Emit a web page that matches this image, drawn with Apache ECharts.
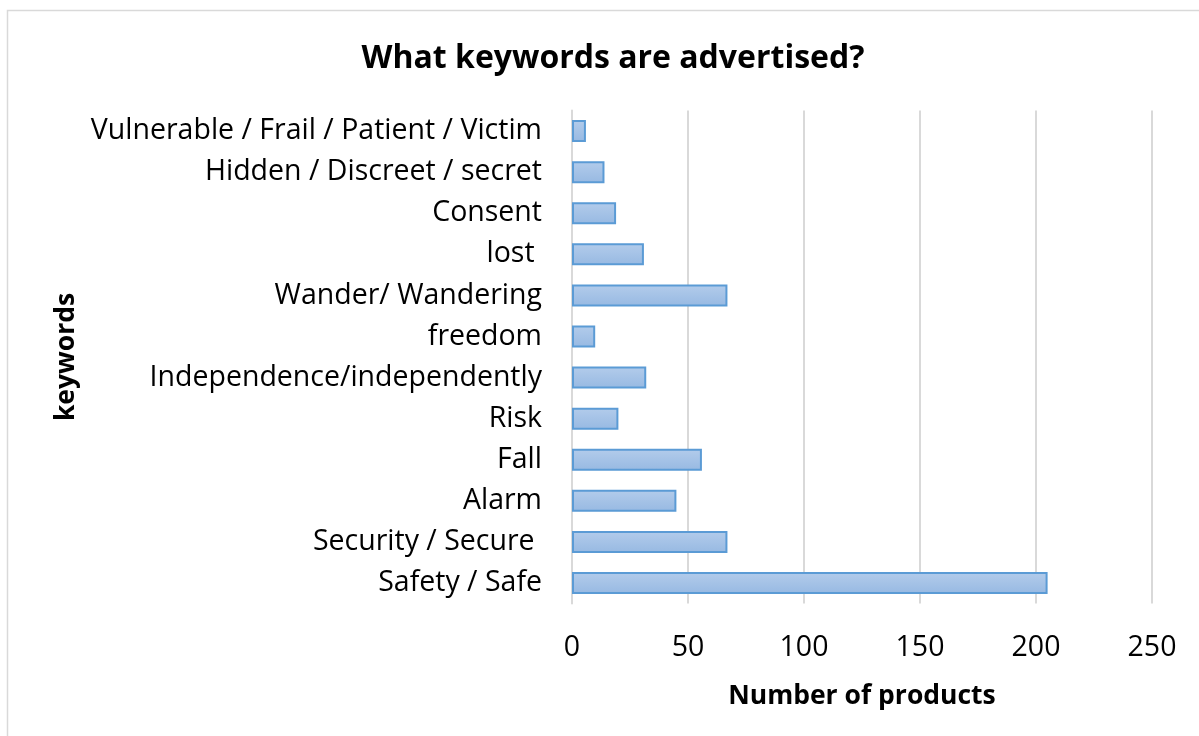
<!DOCTYPE html>
<html><head><meta charset="utf-8">
<script src="https://cdn.jsdelivr.net/npm/echarts@6/dist/echarts.min.js"></script>
<style>html,body{margin:0;padding:0;background:#fff}#c{width:1199px;height:736px}</style>
</head><body><div id="c"></div>
<script>
const categories = ["Safety / Safe","Security / Secure ","Alarm","Fall","Risk","Independence/independently","freedom","Wander/ Wandering","lost ","Consent","Hidden / Discreet / secret","Vulnerable / Frail / Patient / Victim"];
const values = [205,67,45,56,20,32,10,67,31,19,14,6];
const xTicks = [0,50,100,150,200,250];
const FONT = "Open Sans";
const chart = echarts.init(document.getElementById('c'));
chart.setOption({
  animation:false,
  graphic:[{type:'rect',shape:{x:7.5,y:10.5,width:1200,height:740},style:{fill:'none',stroke:'#d9d9d9',lineWidth:1.5}}],
  title:{text:'What keywords are advertised?',left:608,textAlign:'center',top:38,textStyle:{fontFamily:FONT,fontWeight:'bold',fontSize:32,color:'#000'}},
  grid:{left:572,right:47,top:110.5,bottom:132.5,containLabel:false},
  xAxis:{type:'value',min:0,max:250,interval:50,
    name:'Number of products',nameLocation:'middle',nameGap:79,
    nameTextStyle:{fontFamily:FONT,fontWeight:'bold',fontSize:26.5,color:'#000'},
    axisLine:{show:false},axisTick:{show:false},
    axisLabel:{fontFamily:FONT,fontSize:28.5,color:'#000',margin:30},
    splitLine:{show:true,lineStyle:{color:'#d9d9d9',width:2}}},
  yAxis:{type:'category',data:categories,
    name:'keywords',nameLocation:'middle',nameGap:492,nameRotate:90,
    nameTextStyle:{fontFamily:FONT,fontWeight:'bold',fontSize:26.5,color:'#000'},
    axisLine:{show:true,lineStyle:{color:'#d9d9d9',width:2}},axisTick:{show:false},
    axisLabel:{fontFamily:FONT,fontSize:28.5,color:'#000',margin:30,padding:[4,0,0,0]}},
  series:[{type:'bar',data:values,barWidth:22,
    itemStyle:{borderColor:'#5b9bd5',borderWidth:2,
      color:new echarts.graphic.LinearGradient(0,0,0,1,[{offset:0,color:'#b3cceb'},{offset:1,color:'#97b9e2'}])}}]
});
</script></body></html>
